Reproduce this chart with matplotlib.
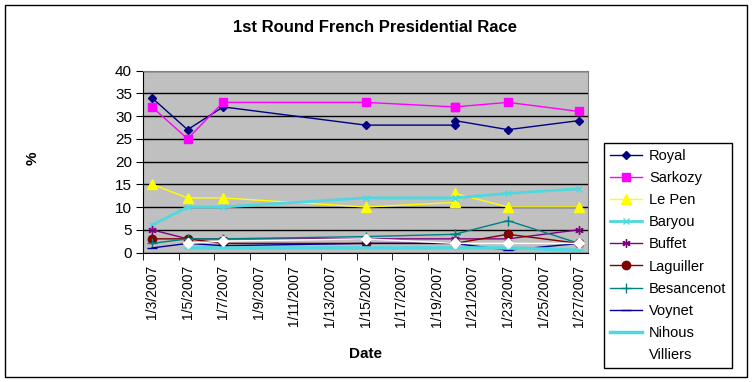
import numpy as np
import pandas as pd
import matplotlib.pyplot as plt
import matplotlib.dates as mdates
from matplotlib.patches import Rectangle

plt.rcParams['font.family'] = ['Liberation Sans', 'DejaVu Sans']

# poll dates (two polls on 1/20)
dates = ['2007-01-03', '2007-01-05', '2007-01-07', '2007-01-15',
         '2007-01-20', '2007-01-20', '2007-01-23', '2007-01-27']

royal = [34, 27, 32, 28, 28, 29, 27, 29]
sarkozy = [32, 25, 33, 33, 32, 32, 33, 31]
le_pen = [15, 12, 12, 10, 11, 13, 10, 10]
baryou = [6, 10, 10, 12, 12, 12, 13, 14]
buffet = [5, 3, 3, 3, 3, 3, 3, 5]
laguiller = [3, 3, 2, 2, 2, 2, 4, 2]
besancenot = [2, 3, 3, 3.5, 4, 4, 7, 2]
voynet = [1, 2, 1.5, 2, 2, 2, 0.5, 2]
nihous = [np.nan, 1, 1, 1, 1, 1, 1, 0.5]
villiers = [np.nan, 2, 2.5, 3, 2, 2, 2, 2]

tick_days = pd.date_range('2007-01-03', '2007-01-27', freq='2D')

x = pd.to_datetime(dates)

# name, values, color, marker, markersize, linewidth
series = [
    ('Royal', royal, '#000080', 'D', 4.5, 1.0),
    ('Sarkozy', sarkozy, '#FF00FF', 's', 6, 1.0),
    ('Le Pen', le_pen, '#FFFF00', '^', 7, 1.0),
    ('Baryou', baryou, '#4DD9E0', 'x', 5, 2.0),
    ('Buffet', buffet, '#800080', (6, 2, 0), 6, 1.0),
    ('Laguiller', laguiller, '#800000', 'o', 6, 1.0),
    ('Besancenot', besancenot, '#008080', '+', 7, 1.0),
    ('Voynet', voynet, '#000099', '_', 7, 1.0),
    ('Nihous', nihous, '#4DD9E0', '_', 7, 2.5),
    ('Villiers', villiers, '#FFFFFF', 'D', 5, 1.0),
]

fig = plt.figure(figsize=(7.53, 3.82), dpi=100)
ax = fig.add_axes([0.190, 0.339, 0.591, 0.4764])
ax.set_facecolor('#C0C0C0')

for name, vals, col, mk, ms, lw in series:
    ax.plot(x, vals, color=col, marker=mk, markersize=ms, linewidth=lw,
            markeredgecolor=col, markerfacecolor=col, label=name, zorder=3)

ax.set_ylim(0, 40)
ax.set_yticks(range(0, 41, 5))
ax.yaxis.grid(True, color='black', linewidth=1)
ax.set_axisbelow(True)

half = pd.Timedelta(hours=12)
ax.set_xlim(mdates.date2num(pd.Timestamp('2007-01-03') - half),
            mdates.date2num(pd.Timestamp('2007-01-27') + half))
ax.set_xticks(mdates.date2num(tick_days))
ax.set_xticklabels([f'{d.month}/{d.day}/{d.year}' for d in tick_days],
                   rotation=90, fontsize=10)
ax.set_xticks(mdates.date2num(tick_days - half), minor=True)
ax.tick_params(axis='x', which='major', length=0, pad=9)
ax.tick_params(axis='x', which='minor', length=5, direction='out', color='black')
ax.tick_params(axis='y', length=5, direction='out', labelsize=11, pad=3)

for s in ['top', 'right']:
    ax.spines[s].set_color('#808080')
for s in ['left', 'bottom']:
    ax.spines[s].set_color('black')

ax.set_xlabel('Date', fontsize=11, fontweight='bold', labelpad=14)
fig.text(0.043, 0.585, '%', fontsize=11, fontweight='bold', rotation=90,
         ha='center', va='center')
fig.text(0.498, 0.928, '1st Round French Presidential Race', fontsize=12,
         fontweight='bold', ha='center', va='center')

leg = fig.legend(loc='upper left', bbox_to_anchor=(0.802, 0.626), fontsize=10.5,
                 frameon=True, fancybox=False, edgecolor='black', framealpha=1,
                 labelspacing=0.56, handlelength=2.2, handletextpad=0.5,
                 borderpad=0.4, borderaxespad=0)
leg.get_frame().set_linewidth(1)

fig.patches.append(Rectangle((0.007, 0.013), 0.985, 0.975, transform=fig.transFigure,
                             fill=False, edgecolor='black', linewidth=1))

fig.savefig('out.png', dpi=100)
